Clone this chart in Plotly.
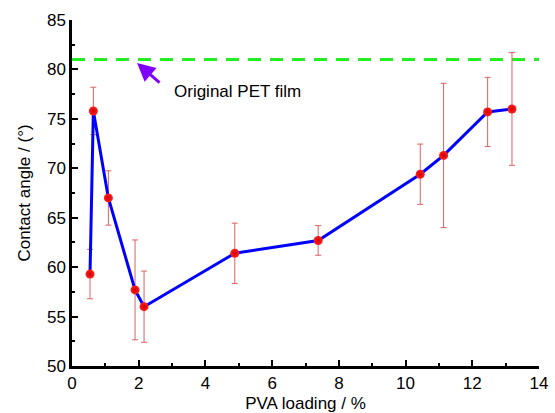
import plotly.graph_objects as go

pva_loading = [0.54, 0.64, 1.09, 1.89, 2.16, 4.88, 7.38, 10.44, 11.14, 12.46, 13.19]
contact_angle = [59.3, 75.8, 67.0, 57.7, 56.0, 61.4, 62.7, 69.4, 71.3, 75.7, 76.0]
error = [2.5, 2.4, 2.75, 5.05, 3.6, 3.05, 1.5, 3.05, 7.3, 3.5, 5.7]
pet_value = 81.0
pet_label = "Original PET film"
x_ticks = [0, 2, 4, 6, 8, 10, 12, 14]
y_ticks = [50, 55, 60, 65, 70, 75, 80, 85]

font = "Liberation Sans, Arial, sans-serif"
fs = 17

fig = go.Figure()
fig.add_trace(go.Scatter(
    x=[0, 14.08], y=[pet_value, pet_value], mode="lines",
    line=dict(color="#22ee22", width=3, dash="13px,9px"),
    hoverinfo="skip", showlegend=False, cliponaxis=False))
fig.add_trace(go.Scatter(
    x=pva_loading, y=contact_angle, mode="lines+markers",
    line=dict(color="#0000ff", width=3),
    marker=dict(size=9, color="#ff2020",
                gradient=dict(type="radial", color="#d00000"),
                line=dict(width=0)),
    error_y=dict(type="data", array=error, visible=True,
                 color="#e06060", thickness=1, width=3),
    showlegend=False))

fig.add_annotation(x=1.95, y=80.65, xref="x", yref="y", text="",
                   showarrow=True, ax=24, ay=21, axref="pixel", ayref="pixel",
                   arrowhead=2, arrowsize=1.2, arrowwidth=3, arrowcolor="#8000ff")
fig.add_annotation(x=2.99, y=77.75, xref="x", yref="y", text=pet_label,
                   showarrow=False, xanchor="left", yanchor="middle",
                   font=dict(family=font, size=fs, color="black"))

axis_common = dict(showline=True, linecolor="black", linewidth=2.5,
                   ticks="inside", tickwidth=2, tickcolor="black",
                   showgrid=False, zeroline=False, mirror=False, automargin=False,
                   tickfont=dict(family=font, size=fs, color="black"))
fig.update_xaxes(range=[0, 14], tickvals=x_ticks, ticklen=6,
                 minor=dict(dtick=1, ticks="inside", ticklen=3, tickwidth=2, tickcolor="black"),
                 title=dict(text="PVA loading / %", font=dict(family=font, size=fs, color="black"), standoff=10),
                 **axis_common)
fig.update_yaxes(range=[50, 85], tickvals=y_ticks, ticklen=6,
                 minor=dict(dtick=2.5, ticks="inside", ticklen=3, tickwidth=2, tickcolor="black"),
                 title=dict(text="Contact angle / (°)", font=dict(family=font, size=fs, color="black"), standoff=12),
                 **axis_common)
fig.update_layout(width=555, height=413, margin=dict(l=72, r=16, t=20, b=47),
                  paper_bgcolor="white", plot_bgcolor="white",
                  font=dict(family=font, size=fs, color="black"))
fig.write_html("out.html")
